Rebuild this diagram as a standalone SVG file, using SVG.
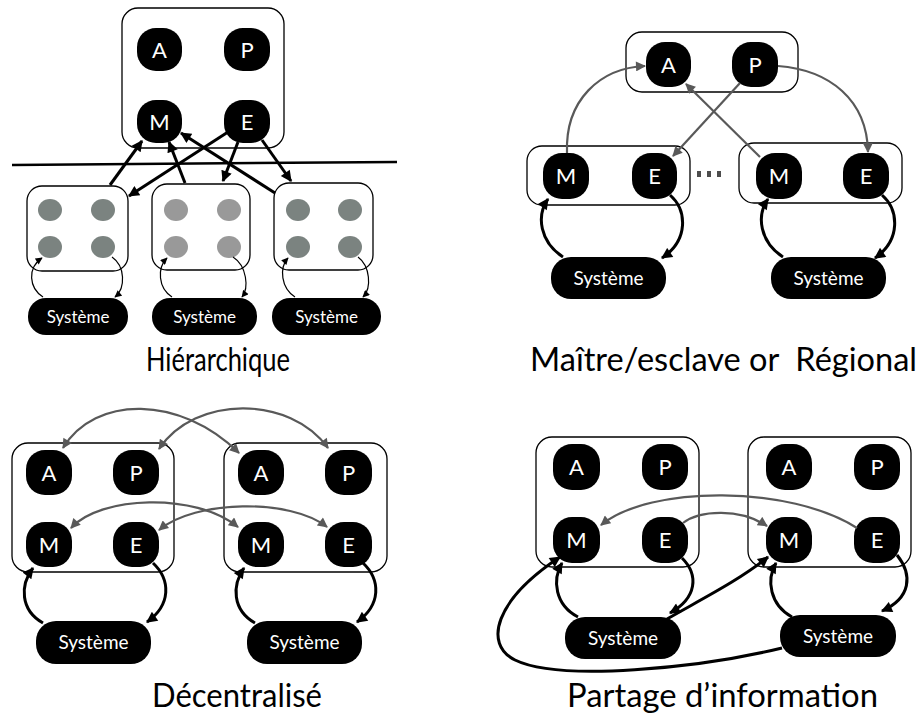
<svg xmlns="http://www.w3.org/2000/svg" width="920" height="725" viewBox="0 0 920 725">
<style>
.box{fill:none;stroke:#000;stroke-width:1.3}
.n{fill:#000}
.nt{fill:#fff;font-family:Lato,"Open Sans",sans-serif;font-size:22px;text-anchor:middle}
.st{fill:#fff;font-family:Lato,"Open Sans",sans-serif;font-size:19px;text-anchor:middle}
.st1{fill:#fff;font-family:Lato,"Open Sans",sans-serif;font-size:17px;text-anchor:middle}
.title{fill:#000;font-family:Lato,"Open Sans",sans-serif;font-size:32px}
.dk{fill:#7b8380}
.lt{fill:#999}
.bk{fill:none;stroke:#000;stroke-width:3;marker-end:url(#ab)}
.bk1{fill:none;stroke:#000;stroke-width:1.2;marker-end:url(#as)}
.gr{fill:none;stroke:#595959;stroke-width:2.2;marker-end:url(#ag)}
.gr2{fill:none;stroke:#595959;stroke-width:2.2;marker-end:url(#ag);marker-start:url(#ag)}
</style>
<defs>
<marker id="ab" viewBox="0 0 10 10" refX="9" refY="5" markerWidth="13" markerHeight="11" markerUnits="userSpaceOnUse" orient="auto-start-reverse"><path d="M0,0 L10,5 L0,10 z" fill="#000"/></marker>
<marker id="ag" viewBox="0 0 10 10" refX="9" refY="5" markerWidth="11" markerHeight="10" markerUnits="userSpaceOnUse" orient="auto-start-reverse"><path d="M0,0 L10,5 L0,10 z" fill="#595959"/></marker>
<marker id="as" viewBox="0 0 10 10" refX="9" refY="5" markerWidth="8" markerHeight="7" markerUnits="userSpaceOnUse" orient="auto-start-reverse"><path d="M0,0 L10,5 L0,10 z" fill="#000"/></marker>
</defs>
<rect width="920" height="725" fill="#fff"/>

<!-- Quadrant 1: Hiérarchique -->
<g id="h-central">
<rect class="box" x="122" y="8" width="162" height="140" rx="16"/>
<rect class="n" x="137" y="28" width="45" height="43" rx="19"/><text class="nt" x="159.5" y="57.5">A</text>
<rect class="n" x="224" y="28" width="46" height="43" rx="19"/><text class="nt" x="247" y="57.5">P</text>
<rect class="n" x="137" y="100" width="45" height="43" rx="19"/><text class="nt" x="159.5" y="129.5">M</text>
<rect class="n" x="224" y="100" width="46" height="43" rx="19"/><text class="nt" x="247" y="129.5">E</text>
</g>
<g id="h-line"><path d="M12,165 L397,162" stroke="#000" stroke-width="2.5"/></g>
<g id="h-sub1">
<rect class="box" x="27" y="186" width="101" height="85" rx="15"/>
<ellipse class="dk" cx="50" cy="210" rx="12" ry="11"/><ellipse class="dk" cx="103" cy="210" rx="12" ry="11"/>
<ellipse class="dk" cx="50" cy="247" rx="12" ry="11"/><ellipse class="dk" cx="103" cy="247" rx="12" ry="11"/>
</g>
<g id="h-sub2">
<rect class="box" x="152" y="184" width="98" height="86" rx="15"/>
<ellipse class="lt" cx="176" cy="210" rx="12" ry="11"/><ellipse class="lt" cx="229" cy="210" rx="12" ry="11"/>
<ellipse class="lt" cx="176" cy="247" rx="12" ry="11"/><ellipse class="lt" cx="229" cy="247" rx="12" ry="11"/>
</g>
<g id="h-sub3">
<rect class="box" x="274" y="183" width="99" height="87" rx="15"/>
<ellipse class="dk" cx="298" cy="210" rx="12" ry="11"/><ellipse class="dk" cx="350" cy="210" rx="12" ry="11"/>
<ellipse class="dk" cx="298" cy="247" rx="12" ry="11"/><ellipse class="dk" cx="350" cy="247" rx="12" ry="11"/>
</g>
<g id="h-sys1"><rect class="n" x="28" y="298" width="100" height="37" rx="18"/><text class="st1" x="78" y="322.5">Système</text></g>
<g id="h-sys2"><rect class="n" x="152" y="298" width="105" height="37" rx="18"/><text class="st1" x="204.5" y="322.5">Système</text></g>
<g id="h-sys3"><rect class="n" x="272" y="298" width="109" height="37" rx="18"/><text class="st1" x="326.5" y="322.5">Système</text></g>

<!-- Quadrant 2: Maître/esclave -->
<g id="m-top">
<rect class="box" x="626" y="32" width="172" height="60" rx="16"/>
<rect class="n" x="646" y="42" width="45" height="45" rx="19"/><text class="nt" x="668.5" y="72.5">A</text>
<rect class="n" x="732" y="42" width="46" height="45" rx="19"/><text class="nt" x="755" y="72.5">P</text>
</g>
<g id="m-left">
<rect class="box" x="527" y="146" width="163" height="59" rx="15"/>
<rect class="n" x="543" y="153" width="46" height="46" rx="19"/><text class="nt" x="566" y="184">M</text>
<rect class="n" x="632" y="153" width="45" height="46" rx="19"/><text class="nt" x="654.5" y="184">E</text>
</g>
<g id="m-dots"><rect x="697" y="171" width="4" height="6" fill="#4d4d4d"/><rect x="707" y="171" width="4" height="6" fill="#4d4d4d"/><rect x="717" y="171" width="4" height="6" fill="#4d4d4d"/></g>
<g id="m-right">
<rect class="box" x="739" y="143" width="163" height="60" rx="15"/>
<rect class="n" x="756" y="153" width="46" height="46" rx="19"/><text class="nt" x="779" y="184">M</text>
<rect class="n" x="843" y="153" width="46" height="46" rx="19"/><text class="nt" x="866" y="184">E</text>
</g>
<g id="m-sys1"><rect class="n" x="551" y="257" width="115" height="42" rx="20"/><text class="st" x="608.5" y="284.5">Système</text></g>
<g id="m-sys2"><rect class="n" x="771" y="257" width="115" height="42" rx="20"/><text class="st" x="828.5" y="284.5">Système</text></g>

<!-- Quadrant 3: Décentralisé -->
<g id="d-left">
<rect class="box" x="12" y="443" width="162" height="129" rx="16"/>
<rect class="n" x="26" y="450" width="46" height="45" rx="19"/><text class="nt" x="49" y="480.5">A</text>
<rect class="n" x="113" y="450" width="46" height="45" rx="19"/><text class="nt" x="136" y="480.5">P</text>
<rect class="n" x="26" y="522" width="46" height="45" rx="19"/><text class="nt" x="49" y="552.5">M</text>
<rect class="n" x="113" y="522" width="46" height="45" rx="19"/><text class="nt" x="136" y="552.5">E</text>
</g>
<g id="d-right">
<rect class="box" x="224" y="443" width="163" height="129" rx="16"/>
<rect class="n" x="238" y="450" width="46" height="45" rx="19"/><text class="nt" x="261" y="480.5">A</text>
<rect class="n" x="325" y="450" width="47" height="45" rx="19"/><text class="nt" x="348.5" y="480.5">P</text>
<rect class="n" x="238" y="522" width="46" height="45" rx="19"/><text class="nt" x="261" y="552.5">M</text>
<rect class="n" x="325" y="522" width="47" height="45" rx="19"/><text class="nt" x="348.5" y="552.5">E</text>
</g>
<g id="d-sys1"><rect class="n" x="36" y="621" width="115" height="43" rx="20"/><text class="st" x="93.5" y="649">Système</text></g>
<g id="d-sys2"><rect class="n" x="247" y="621" width="115" height="43" rx="20"/><text class="st" x="304.5" y="649">Système</text></g>

<!-- Quadrant 4: Partage d'information -->
<g id="p-left">
<rect class="box" x="536" y="437" width="163" height="130" rx="16"/>
<rect class="n" x="553" y="444" width="47" height="46" rx="19"/><text class="nt" x="576.5" y="475">A</text>
<rect class="n" x="642" y="444" width="46" height="46" rx="19"/><text class="nt" x="665" y="475">P</text>
<rect class="n" x="553" y="517" width="47" height="46" rx="19"/><text class="nt" x="576.5" y="548">M</text>
<rect class="n" x="642" y="517" width="46" height="46" rx="19"/><text class="nt" x="665" y="548">E</text>
</g>
<g id="p-right">
<rect class="box" x="748" y="437" width="163" height="130" rx="16"/>
<rect class="n" x="766" y="444" width="46" height="46" rx="19"/><text class="nt" x="789" y="475">A</text>
<rect class="n" x="854" y="444" width="46" height="46" rx="19"/><text class="nt" x="877" y="475">P</text>
<rect class="n" x="766" y="517" width="46" height="46" rx="19"/><text class="nt" x="789" y="548">M</text>
<rect class="n" x="854" y="517" width="46" height="46" rx="19"/><text class="nt" x="877" y="548">E</text>
</g>
<g id="p-sys1"><rect class="n" x="565" y="617" width="116" height="42" rx="20"/><text class="st" x="623" y="644.5">Système</text></g>
<g id="p-sys2"><rect class="n" x="780" y="615" width="116" height="42" rx="20"/><text class="st" x="838" y="642.5">Système</text></g>

<!-- Connectors -->
<g id="connectors">
<path class="bk" d="M110,185 L142,141"/>
<path class="bk" d="M228,132 L129,196"/>
<path class="bk" d="M185,183 L169,142"/>
<path class="bk" d="M238,142 L223,181"/>
<path class="bk" d="M275,193 L181,133"/>
<path class="bk" d="M262,140 L291,181"/>
<path class="bk1" d="M43,297 C29,288 27,268 42,258"/>
<path class="bk1" d="M112,257 C125,266 126,288 115,297"/>
<path class="bk1" d="M172,297 C158,288 157,268 167,258"/>
<path class="bk1" d="M233,257 C247,266 249,288 242,297"/>
<path class="bk1" d="M295,297 C281,288 279,268 288,258"/>
<path class="bk1" d="M358,257 C370,266 372,288 363,297"/>
<path class="gr" d="M567,153 C565,100 600,68 645,66"/>
<path class="gr" d="M740,83 L673,156"/>
<path class="gr" d="M760,157 L686,84"/>
<path class="gr" d="M778,66 C830,70 867,100 868,152"/>
<path class="bk" d="M563,257 C540,242 536,216 548,199"/>
<path class="bk" d="M670,195 C687,210 689,240 662,258"/>
<path class="bk" d="M783,257 C760,242 756,216 768,199"/>
<path class="bk" d="M882,195 C899,210 901,240 875,258"/>
<path class="gr2" d="M63,448 C95,395 180,395 239,453"/>
<path class="gr2" d="M159,449 C195,395 290,395 328,448"/>
<path class="gr2" d="M71,528 C100,496 195,492 238,527"/>
<path class="gr2" d="M159,530 C195,500 290,498 327,527"/>
<path class="bk" d="M43,623 C20,610 20,585 33,568"/>
<path class="bk" d="M153,563 C171,580 171,605 147,622"/>
<path class="bk" d="M255,623 C232,610 232,585 244,568"/>
<path class="bk" d="M363,563 C381,580 381,605 357,622"/>
<path class="gr" d="M683,523 C700,510 740,508 767,526"/>
<path class="gr" d="M857,528 C790,485 650,485 601,525"/>
<path class="bk" d="M578,617 C555,605 552,580 562,563"/>
<path class="bk" d="M682,558 C699,575 697,598 670,613"/>
<path class="bk" d="M667,619 C700,600 740,580 768,557"/>
<path class="bk" d="M792,617 C770,605 766,580 776,563"/>
<path class="bk" d="M897,555 C913,575 911,598 882,611"/>
<path class="bk" d="M782,648 C700,668 560,682 515,660 C483,644 495,600 560,557"/>
</g>

<g id="titles">
<text class="title" x="146" y="371" textLength="144" lengthAdjust="spacingAndGlyphs">Hiérarchique</text>
<text class="title" x="530" y="371" textLength="387" lengthAdjust="spacingAndGlyphs" xml:space="preserve">Maître/esclave or  Régional</text>
<text class="title" x="152" y="707" textLength="170" lengthAdjust="spacingAndGlyphs">Décentralisé</text>
<text class="title" x="567" y="707" textLength="311" lengthAdjust="spacingAndGlyphs">Partage d’information</text>
</g>
</svg>
